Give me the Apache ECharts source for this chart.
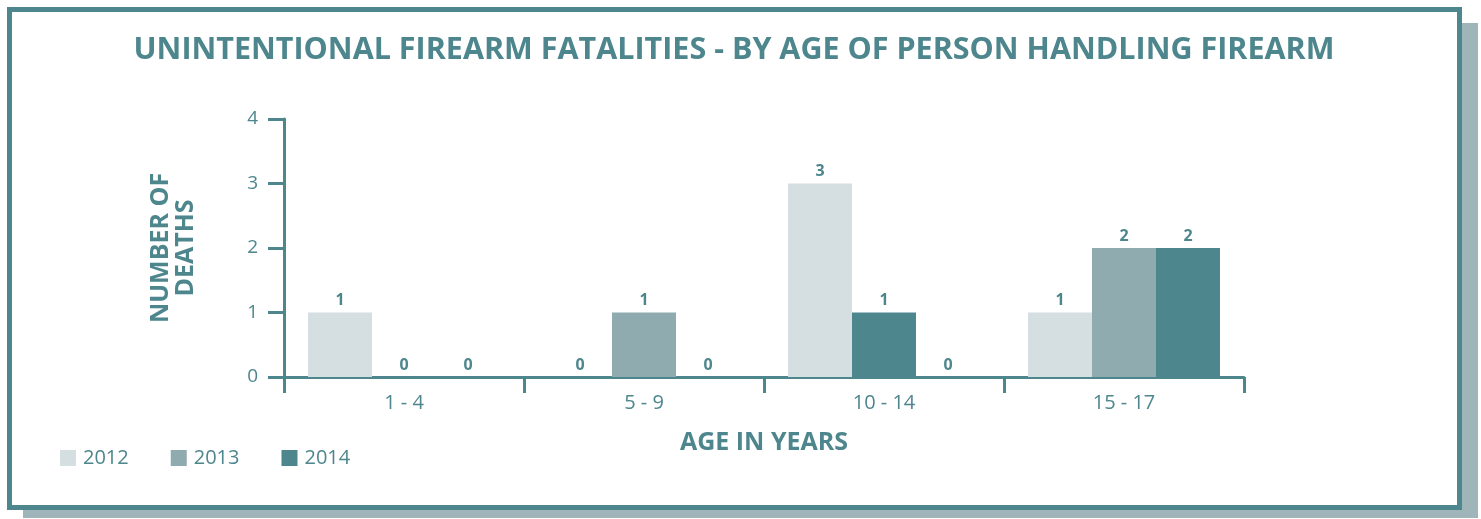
<!DOCTYPE html>
<html>
<head>
<meta charset="utf-8">
<script src="https://cdn.jsdelivr.net/npm/echarts@6/dist/echarts.min.js"></script>
<style>
  html, body { margin: 0; padding: 0; background: #ffffff; }
  #chart { width: 1481px; height: 519px; }
</style>
</head>
<body>
<div id="chart"></div>
<script>
// Age groups of the person handling the firearm
const ageGroups = ['1 - 4', '5 - 9', '10 - 14', '15 - 17'];
const years = ['2012', '2013', '2014'];

// Deaths per year, one entry per age group
const deaths2012 = [1, 0, 3, 1];
const deaths2013 = [0, 1, 1, 2];
const deaths2014 = [0, 0, 0, 2];

const yTicks = [0, 1, 2, 3, 4];

const TEAL = '#4d868d';
const colors = ['#d5dee0', '#8fabb0', '#4d868d'];
const FONT = '"Open Sans", "Noto Sans", sans-serif';

// The 10 - 14 bar of 2013 is printed in the darker tone
const data2013 = deaths2013.map((v, i) =>
  i === 2 ? { value: v, itemStyle: { color: colors[2] } } : v);

function barSeries(name, data, color) {
  return {
    name: name,
    type: 'bar',
    data: data,
    barGap: '0%',
    barCategoryGap: '20%',
    itemStyle: { color: color },
    label: {
      show: true,
      position: 'top',
      distance: 4,
      color: TEAL,
      fontFamily: FONT,
      fontWeight: 'bold',
      fontSize: 16
    }
  };
}

const chart = echarts.init(document.getElementById('chart'), null, { renderer: 'canvas' });

chart.setOption({
  backgroundColor: '#ffffff',
  animation: false,
  color: colors,
  textStyle: { fontFamily: FONT },
  graphic: [
    {
      type: 'rect', z: -20, silent: true,
      shape: { x: 23, y: 23, width: 1455, height: 495 },
      style: { fill: '#a0b5ba' }
    },
    {
      type: 'rect', z: -10, silent: true,
      shape: { x: 9.5, y: 9.5, width: 1450, height: 498 },
      style: { fill: '#ffffff', stroke: TEAL, lineWidth: 5 }
    }
  ],
  title: {
    text: 'UNINTENTIONAL FIREARM FATALITIES - BY AGE OF PERSON HANDLING FIREARM',
    left: 734,
    textAlign: 'center',
    top: 35,
    padding: 0,
    textStyle: {
      color: TEAL,
      fontFamily: FONT,
      fontWeight: 'bold',
      fontSize: 30.5
    }
  },
  legend: {
    data: years,
    left: 60,
    top: 448,
    padding: 0,
    itemWidth: 16,
    itemHeight: 16,
    itemGap: 42,
    icon: 'rect',
    textStyle: { color: TEAL, fontFamily: FONT, fontSize: 20, padding: [0, 0, 0, 2] }
  },
  grid: { left: 284, right: 237, top: 119, bottom: 142 },
  xAxis: {
    type: 'category',
    data: ageGroups,
    name: 'AGE IN YEARS',
    nameLocation: 'middle',
    nameGap: 53,
    nameTextStyle: { color: TEAL, fontFamily: FONT, fontWeight: 'bold', fontSize: 25 },
    axisLine: { lineStyle: { color: TEAL, width: 3 } },
    axisTick: { show: true, length: 16, lineStyle: { color: TEAL, width: 3 } },
    axisLabel: { color: TEAL, fontFamily: FONT, fontSize: 20, margin: 16 }
  },
  yAxis: {
    type: 'value',
    min: yTicks[0],
    max: yTicks[yTicks.length - 1],
    interval: 1,
    name: 'NUMBER OF\nDEATHS',
    nameLocation: 'middle',
    nameGap: 86,
    nameRotate: 90,
    nameTextStyle: { color: TEAL, fontFamily: FONT, fontWeight: 'bold', fontSize: 25, lineHeight: 25 },
    axisLine: { show: true, lineStyle: { color: TEAL, width: 3 } },
    axisTick: { show: true, length: 16, lineStyle: { color: TEAL, width: 3 } },
    axisLabel: { color: TEAL, fontFamily: FONT, fontSize: 19, margin: 26 },
    splitLine: { show: false }
  },
  series: [
    barSeries(years[0], deaths2012, colors[0]),
    barSeries(years[1], data2013, colors[1]),
    barSeries(years[2], deaths2014, colors[2])
  ]
});
</script>
</body>
</html>
